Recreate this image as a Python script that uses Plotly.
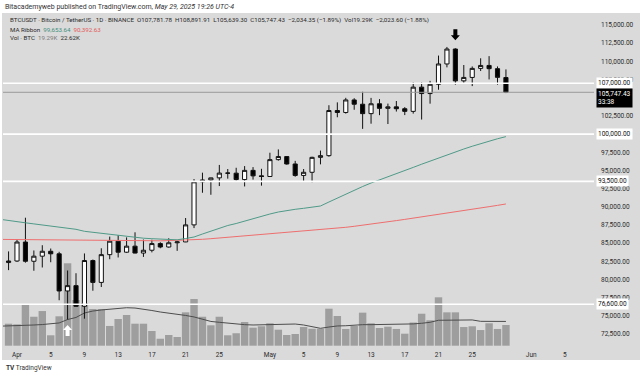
import plotly.graph_objects as go
import pandas as pd

# ---------------- data ----------------
candle_dates = pd.date_range("2025-03-31", "2025-05-29", freq="D")
ma_dates = pd.date_range("2025-03-30", "2025-05-29", freq="D")

opens = [82336, 82548, 85159, 82516, 83213, 83890, 83538, 78430, 79164, 76322,
         82615, 79607, 83423, 85276, 83760, 84591, 83643, 84030, 84947, 84474,
         85056, 85174, 87516, 93442, 93691, 93980, 94638, 94628, 93750, 95011,
         94256, 94172, 96489, 96910, 95891, 94315, 94748, 96802, 97033, 103241,
         102971, 104696, 104107, 102812, 104169, 103539, 103744, 103489, 103126, 106454,
         105573, 106850, 109643, 111696, 107318, 107791, 109035, 109440, 108995, 107781.78]
highs = [83870, 85487, 88500, 83998, 84720, 84266, 83817, 81243, 80867, 83588,
         82753, 84300, 85905, 86100, 85799, 86496, 85500, 85470, 85132, 85677,
         85320, 88460, 93817, 94696, 94000, 95758, 95199, 95369, 95600, 95461,
         95228, 97437, 97895, 96943, 96318, 95199, 96889, 97732, 103969, 104361,
         104984, 104937, 105819, 104976, 104808, 104192, 104550, 103709, 107108, 107108,
         107320, 110797, 111980, 111800, 109500, 109300, 110422, 110718, 109300, 108891.91]
lows = [81293, 82429, 82320, 81211, 81659, 82379, 77153, 74508, 76239, 74620,
        78464, 78971, 82792, 83034, 83678, 83600, 83111, 83736, 84303, 84388,
        83949, 85144, 87076, 91935, 91660, 92855, 93870, 93602, 92800, 93742,
        92910, 94111, 96350, 95800, 94137, 93514, 93377, 95840, 96891, 102315,
        102818, 103346, 100718, 101429, 102602, 101383, 103100, 102612, 102815, 102000,
        104184, 106100, 109177, 106800, 106900, 106600, 108670, 107516, 106800, 105639.30]
closes = [82548, 85159, 82516, 83213, 83889, 83538, 78430, 79164, 76322, 82615,
          79607, 83423, 85276, 83760, 84591, 83643, 84030, 84947, 84474, 85056,
          85174, 87516, 93442, 93691, 93980, 94638, 94628, 93750, 95011, 94256,
          94172, 96489, 96910, 95891, 94315, 94748, 96802, 97033, 103241, 102971,
          104696, 104107, 102812, 104169, 103539, 103744, 103489, 103126, 106454, 105573,
          106850, 109643, 111696, 107318, 107791, 109035, 109440, 108995, 107802, 105747.43]
volumes_k = [20.5, 19.9, 38.6, 27.0, 32.3, 9.7, 27.4, 76.8, 42.6, 39.8,
             34.2, 34.2, 18.4, 24.9, 28.6, 20.5, 20.5, 13.7, 6.5, 10.0,
             8.1, 31.1, 43.5, 27.0, 19.0, 27.0, 9.7, 11.6, 22.1, 16.8,
             18.1, 20.9, 14.9, 10.0, 10.9, 17.4, 15.8, 15.8, 34.5, 27.7,
             15.6, 18.4, 30.8, 20.9, 16.5, 17.7, 15.6, 11.2, 21.6, 29.8,
             23.7, 45.1, 31.1, 31.1, 17.4, 18.1, 14.6, 20.9, 15.6, 19.29]
vol_ma_k = [18.2, 18.4,
            18.4, 18.8, 19.3, 19.7, 20.2, 21.2, 24.4, 26.3, 30.5, 32.3,
            33.3, 34.2, 35.1, 35.4, 35.1, 34.2, 32.8, 31.4, 30.5, 29.5,
            28.2, 26.8, 24.5, 22.6, 21.8, 20.9, 19.9, 19.6, 19.3, 19.6,
            19.9, 20.2, 20.2, 20.2, 19.3, 17.4, 16.2, 17.4, 18.4, 18.6,
            19.3, 19.6, 19.6, 19.6, 19.6, 19.6, 19.9, 20.3, 20.9, 21.8,
            23.7, 23.8, 24.0, 24.0, 24.0, 22.7, 22.6, 22.6, 22.62]
ma_ribbon_fast = [88284, 88091,
                  87967, 87802, 87651, 87500, 87362, 87197, 87046, 86909, 86634, 86496,
                  86331, 86166, 86015, 85877, 85767, 85685, 85616, 85561, 85506, 85465,
                  85644, 85850, 86262, 86675, 87087, 87431, 87706, 88050, 88394, 88696,
                  89012, 89287, 89494, 89659, 89796, 89934, 90112, 90662, 91212, 91762,
                  92244, 92794, 93275, 93687, 94100, 94540, 94980, 95420, 95860, 96290,
                  96720, 97140, 97550, 97950, 98330, 98700, 99040, 99360, 99653.64]
ma_ribbon_slow = [85520, 85506,
                  85506, 85479, 85465, 85437, 85437, 85410, 85396, 85369, 85355, 85341,
                  85327, 85314, 85300, 85300, 85300, 85300, 85300, 85327, 85355, 85382,
                  85410, 85465, 85534, 85616, 85712, 85809, 85905, 86015, 86125, 86221,
                  86331, 86400, 86482, 86565, 86647, 86730, 86812, 86922, 87046, 87184,
                  87321, 87459, 87610, 87775, 87940, 88105, 88270, 88435, 88600, 88765,
                  88944, 89122, 89287, 89452, 89617, 89840, 90020, 90200, 90392.63]

level_prices = [107000, 100000, 93500, 76600]
last_price = 105747.43
bar_countdown = "33:38"
# price-scale ticks (100,000 and 105,000 sit under the level / last-price tags)
price_ticks = [72500, 75000, 77500, 80000, 82500, 85000, 87500, 90000, 92500, 95000,
               97500, 102500, 107500, 110000, 112500, 115000]
date_tick_vals = ["2025-04-01", "2025-04-05", "2025-04-09", "2025-04-13", "2025-04-17",
                  "2025-04-21", "2025-04-25", "2025-05-01", "2025-05-05", "2025-05-09",
                  "2025-05-13", "2025-05-17", "2025-05-21", "2025-05-25", "2025-06-01",
                  "2025-06-05"]
date_tick_text = ["Apr", "5", "9", "13", "17", "21", "25", "May", "5", "9", "13", "17",
                  "21", "25", "Jun", "5"]
signal_down = ("2025-05-23", 112900)   # arrow tip
signal_up = ("2025-04-07", 73750)      # arrow tip

# ---------------- styling ----------------
W, H = 640, 377
ML, MR, MT, MB = 3, 46, 14, 30
PW, PH = W - ML - MR, H - MT - MB
PANEL = "#dadada"
TXT = "#2a2a2a"
FONT = "Roboto"


def px(x):
    return (x - ML) / PW


def py(y):
    return (H - MB - y) / PH


fig = go.Figure()

fig.add_trace(go.Bar(
    x=candle_dates, y=volumes_k, yaxis="y",
    marker=dict(color="#9e9e9e", line=dict(width=0)),
    width=0.88 * 86400000, hoverinfo="skip"))
fig.add_trace(go.Scatter(
    x=ma_dates, y=vol_ma_k, yaxis="y", mode="lines",
    line=dict(color="#4d4d4d", width=1), hoverinfo="skip"))

fig.add_trace(go.Scatter(
    x=ma_dates, y=ma_ribbon_slow, yaxis="y2", mode="lines",
    line=dict(color="#ee6e6e", width=1), hoverinfo="skip"))
fig.add_trace(go.Scatter(
    x=ma_dates, y=ma_ribbon_fast, yaxis="y2", mode="lines",
    line=dict(color="#4f9a88", width=1), hoverinfo="skip"))
fig.add_trace(go.Candlestick(
    x=candle_dates, open=opens, high=highs, low=lows, close=closes, yaxis="y2",
    increasing=dict(fillcolor="#ffffff", line=dict(color="#111111", width=1)),
    decreasing=dict(fillcolor="#000000", line=dict(color="#111111", width=1)),
    whiskerwidth=0, hoverinfo="skip"))

shapes = [
    dict(type="rect", xref="paper", yref="paper", x0=px(2), x1=px(640), y0=py(360), y1=py(13),
         fillcolor=PANEL, line=dict(width=0), layer="below"),
]
for lv in level_prices:
    shapes.append(dict(type="line", xref="paper", yref="y2", x0=0, x1=1, y0=lv, y1=lv,
                       line=dict(color="#ffffff", width=1.6), layer="above"))
shapes.append(dict(type="line", xref="paper", yref="y2", x0=0, x1=1, y0=last_price, y1=last_price,
                   line=dict(color="#9a9a9a", width=1), layer="above"))

# block arrows (pixel-sized paths anchored at the signal points)
DOWN_ARROW = "M0,0 L-4.5,5 L-2,5 L-2,11 L2,11 L2,5 L4.5,5 Z"
UP_ARROW = "M0,0 L-4.5,-5 L-2,-5 L-2,-11 L2,-11 L2,-5 L4.5,-5 Z"
shapes.append(dict(type="path", xref="x", yref="y2", xsizemode="pixel", ysizemode="pixel",
                   xanchor=signal_down[0], yanchor=signal_down[1], path=DOWN_ARROW,
                   fillcolor="#000000", line=dict(width=0), layer="above"))
shapes.append(dict(type="path", xref="x", yref="y2", xsizemode="pixel", ysizemode="pixel",
                   xanchor=signal_up[0], yanchor=signal_up[1], path=UP_ARROW,
                   fillcolor="#ffffff", line=dict(width=0), layer="above"))

annotations = []
for lv in level_prices:
    annotations.append(dict(
        x=1, xref="paper", y=lv, yref="y2", xanchor="left", yanchor="middle", xshift=2,
        text=f"{lv:,.2f}", showarrow=False, bgcolor="#ffffff", borderpad=1,
        font=dict(family=FONT, size=6.5, color="#111111")))
annotations.append(dict(
    x=1, xref="paper", y=last_price, yref="y2", xanchor="left", yanchor="top", xshift=2, yshift=4,
    text=f"{last_price:,.2f}<br>{bar_countdown}", showarrow=False, bgcolor="#000000",
    borderpad=1, align="left", font=dict(family=FONT, size=6.5, color="#ffffff")))


# header and legend texts
def txt(x, y, s, size=6.5, color=TXT):
    annotations.append(dict(x=px(x), y=py(y), xref="paper", yref="paper", xanchor="left",
                            yanchor="middle", text=s, showarrow=False,
                            font=dict(family=FONT, size=size, color=color)))


txt(3, 7, "Bitacademyweb published on TradingView.com, <i>May 29, 2025 19:26 UTC-4</i>", 7, "#333333")
txt(8, 20.5,
    "BTCUSDT · Bitcoin / TetherUS · 1D · BINANCE  O107,781.78  H108,891.91  L105,639.30  "
    "C105,747.43  −2,034.35 (−1.89%)  Vol19.29K  −2,023.60 (−1.88%)", 6.2)
txt(8, 29.5, "MA Ribbon  <span style='color:#3f8f7d'>99,653.64</span>  "
             "<span style='color:#e25b5b'>90,392.63</span>", 6.2)
txt(8, 38, "Vol · BTC  <span style='color:#7a7a7a'>19.29K</span>  22.62K", 6.2)
txt(4, 368, "<b>TV</b> TradingView", 6.5, "#333333")

x_start = pd.Timestamp("2025-04-01") - pd.Timedelta(days=(17 - ML) / 8.43)
x_end = pd.Timestamp("2025-04-01") + pd.Timedelta(days=(ML + PW - 17) / 8.43)
price_top = 115000 + 137.5 * (25 - MT)
price_bot = 115000 - 137.5 * (H - MB - 25)
vol_px = 1.073
vol_base_y = 345.7

fig.update_layout(
    width=W, height=H,
    margin=dict(l=ML, r=MR, t=MT, b=MB, pad=0),
    paper_bgcolor="#ffffff", plot_bgcolor="rgba(0,0,0,0)",
    showlegend=False, dragmode=False, hovermode=False,
    shapes=shapes, annotations=annotations,
    xaxis=dict(type="date", range=[x_start, x_end], tickvals=date_tick_vals,
               ticktext=date_tick_text, showgrid=False, zeroline=False, showline=False,
               ticks="", ticklabelstandoff=2, rangeslider=dict(visible=False),
               tickfont=dict(family=FONT, size=6.5, color=TXT)),
    yaxis=dict(range=[(vol_base_y - (H - MB)) / vol_px, (vol_base_y - MT) / vol_px],
               showticklabels=False, showgrid=False, zeroline=False, showline=False, ticks=""),
    yaxis2=dict(overlaying="y", side="right", range=[price_bot, price_top],
                tickvals=price_ticks, tickformat=",.2f", showgrid=False, zeroline=False,
                showline=False, ticks="", ticklabelstandoff=6,
                tickfont=dict(family=FONT, size=6.5, color=TXT)),
)

fig.write_html("out.html", config={"displayModeBar": False},
               post_script="document.body.style.margin='0';document.body.style.overflow='hidden';")
